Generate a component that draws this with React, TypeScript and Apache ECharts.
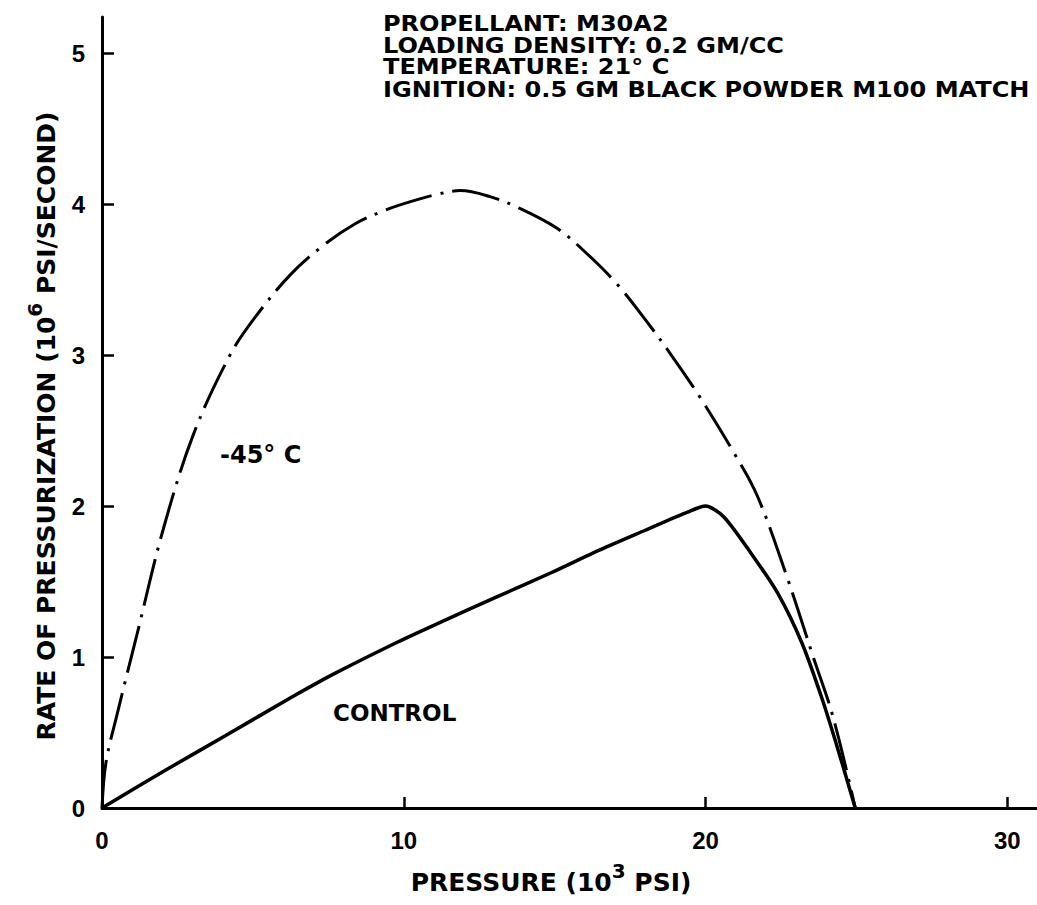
import React, { useEffect, useRef } from "react";
import * as echarts from "echarts";

const xTicks = [0, 10, 20, 30];
const yTicks = [0, 1, 2, 3, 4, 5];

// -45 °C curve (dash-dot)
const coldPressure = [0, 0.13, 0.5, 1.16, 2.02, 3.02, 4.24, 5.07, 6.23, 7.29, 8.39, 9.38, 10.28, 11.1, 11.87, 12.86, 13.76, 15.08, 16.08, 17.07, 18.06, 18.83, 19.82, 20.92, 21.71, 22.7, 23.57, 24.23, 24.96];
const coldRate = [0, 0.3, 0.62, 1.15, 1.84, 2.47, 3.0, 3.25, 3.53, 3.72, 3.87, 3.96, 4.02, 4.065, 4.09, 4.05, 3.98, 3.84, 3.67, 3.47, 3.22, 3.01, 2.72, 2.36, 2.07, 1.53, 1.0, 0.6, 0];

// Control curve (solid)
const controlPressure = [0, 2.1, 4.1, 6.25, 7.7, 9.8, 11.1, 13.1, 14.9, 16.5, 18.0, 19.4, 20.0, 20.6, 21.5, 22.4, 23.2, 23.85, 24.4, 24.96];
const controlRate = [0, 0.25, 0.48, 0.73, 0.89, 1.1, 1.22, 1.4, 1.56, 1.71, 1.84, 1.96, 2.0, 1.93, 1.69, 1.42, 1.09, 0.73, 0.38, 0];

const annotationLines = [
  "PROPELLANT: M30A2",
  "LOADING DENSITY: 0.2 GM/CC",
  "TEMPERATURE: 21° C",
  "IGNITION: 0.5 GM BLACK POWDER M100 MATCH",
];
const annotationY = [24, 45.5, 67, 89.5];

const xAxisTitle = "{n|PRESSURE (10}{s|3}{n| PSI)}";
const yAxisTitle = "{n|RATE OF PRESSURIZATION (10}{s|6}{n| PSI/SECOND)}";

const TITLE_FONT = "DejaVu Sans";
const TICK_FONT = "Liberation Sans";

export default function App() {
  const ref = useRef<HTMLDivElement>(null);

  useEffect(() => {
    const chart = echarts.init(ref.current!, null, { renderer: "svg" });

    const richTitle = {
      n: {
        fontFamily: TITLE_FONT,
        fontWeight: "bold",
        fontSize: 25,
        lineHeight: 34,
        verticalAlign: "bottom",
        fill: "#000",
      },
      s: {
        fontFamily: TITLE_FONT,
        fontWeight: "bold",
        fontSize: 20,
        lineHeight: 20,
        verticalAlign: "top",
        fill: "#000",
      },
    };

    const option: any = {
      animation: false,
      backgroundColor: "#fff",
      grid: { left: 102, right: 1, top: 17, bottom: 97, containLabel: false },
      xAxis: {
        type: "value",
        min: 0,
        max: 30.95,
        interval: 10,
        axisLine: { show: true, lineStyle: { color: "#000", width: 3 } },
        axisTick: {
          show: true,
          inside: true,
          length: 11,
          customValues: xTicks,
          lineStyle: { color: "#000", width: 2.5 },
        },
        axisLabel: {
          customValues: xTicks,
          margin: 20,
          fontFamily: TICK_FONT,
          fontWeight: "bold",
          fontSize: 24,
          color: "#000",
        },
        splitLine: { show: false },
      },
      yAxis: {
        type: "value",
        min: 0,
        max: 5.24,
        interval: 1,
        axisLine: { show: true, lineStyle: { color: "#000", width: 3 } },
        axisTick: {
          show: true,
          inside: true,
          length: 12,
          customValues: yTicks,
          lineStyle: { color: "#000", width: 2.5 },
        },
        axisLabel: {
          customValues: yTicks,
          margin: 17,
          fontFamily: TICK_FONT,
          fontWeight: "bold",
          fontSize: 24,
          color: "#000",
        },
        splitLine: { show: false },
      },
      series: [
        {
          name: "-45° C",
          type: "line",
          data: coldPressure.map((x, i) => [x, coldRate[i]]),
          smooth: 0.35,
          symbol: "none",
          lineStyle: { color: "#000", width: 3, type: [48, 9, 3, 9] },
          z: 3,
        },
        {
          name: "CONTROL",
          type: "line",
          data: controlPressure.map((x, i) => [x, controlRate[i]]),
          smooth: 0.25,
          symbol: "none",
          lineStyle: { color: "#000", width: 3.5 },
          z: 4,
        },
      ],
      graphic: [
        ...annotationLines.map((t, i) => ({
          type: "text",
          x: 383,
          y: annotationY[i],
          scaleX: 1.145,
          style: {
            text: t,
            fontFamily: TITLE_FONT,
            fontWeight: "bold",
            fontSize: 21,
            lineHeight: 21,
            fill: "#000",
            align: "left",
            verticalAlign: "middle",
          },
        })),
        {
          type: "text",
          x: 551,
          y: 878,
          style: {
            text: xAxisTitle,
            rich: richTitle,
            align: "center",
            verticalAlign: "middle",
            fill: "#000",
          },
        },
        {
          type: "text",
          x: 42,
          y: 426,
          rotation: Math.PI / 2,
          style: {
            text: yAxisTitle,
            rich: richTitle,
            align: "center",
            verticalAlign: "middle",
            fill: "#000",
          },
        },
        {
          type: "text",
          x: 220,
          y: 455,
          style: {
            text: "-45° C",
            fontFamily: TITLE_FONT,
            fontWeight: "bold",
            fontSize: 24,
            fill: "#000",
            align: "left",
            verticalAlign: "middle",
          },
        },
        {
          type: "text",
          x: 333,
          y: 713,
          style: {
            text: "CONTROL",
            fontFamily: TITLE_FONT,
            fontWeight: "bold",
            fontSize: 23,
            fill: "#000",
            align: "left",
            verticalAlign: "middle",
          },
        },
      ],
    };

    chart.setOption(option);
    return () => chart.dispose();
  }, []);

  return (
    <div
      ref={ref}
      style={{
        position: "fixed",
        left: 0,
        top: 0,
        width: 1037,
        height: 905,
        background: "#fff",
      }}
    />
  );
}
